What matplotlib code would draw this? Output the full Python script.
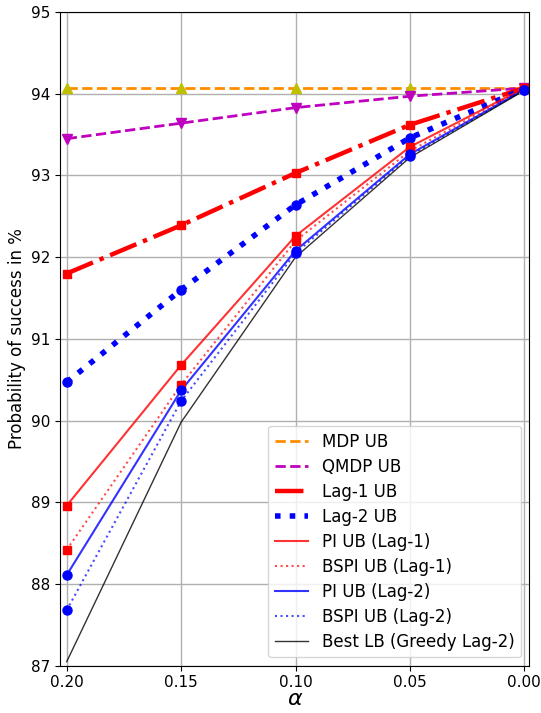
import matplotlib
matplotlib.use("Agg")
import matplotlib.pyplot as plt

alpha = [0.20, 0.15, 0.10, 0.05, 0.00]
mdp_ub = [94.07, 94.07, 94.07, 94.07, 94.07]
qmdp_ub = [93.45, 93.64, 93.83, 93.97, 94.07]
lag1_ub = [91.80, 92.39, 93.03, 93.62, 94.07]
lag2_ub = [90.47, 91.60, 92.64, 93.46, 94.06]
pi_lag1 = [88.96, 90.68, 92.26, 93.35, 94.07]
bspi_lag1 = [88.42, 90.44, 92.20, 93.30, 94.06]
pi_lag2 = [88.11, 90.37, 92.08, 93.26, 94.05]
bspi_lag2 = [87.68, 90.24, 92.05, 93.24, 94.05]
best_lb = [87.05, 89.98, 92.00, 93.22, 94.04]

fig = plt.figure(figsize=(5.41, 7.13), dpi=100)
ax = fig.add_axes([0.1115, 0.0663, 0.8669, 0.9168])

# lines (legend entries)
ax.plot(alpha, mdp_ub, linestyle='--', color='darkorange', lw=2, label='MDP UB')
ax.plot(alpha, qmdp_ub, linestyle='--', color='m', lw=2, label='QMDP UB')
ax.plot(alpha, lag1_ub, linestyle='-.', color='r', lw=3.2, label='Lag-1 UB')
ax.plot(alpha, lag2_ub, linestyle=':', color='b', lw=4, label='Lag-2 UB')
ax.plot(alpha, pi_lag1, linestyle='-', color='r', lw=1.5, alpha=0.8, label='PI UB (Lag-1)')
ax.plot(alpha, bspi_lag1, linestyle=':', color='r', lw=1.5, alpha=0.7, label='BSPI UB (Lag-1)')
ax.plot(alpha, pi_lag2, linestyle='-', color='b', lw=1.5, alpha=0.8, label='PI UB (Lag-2)')
ax.plot(alpha, bspi_lag2, linestyle=':', color='b', lw=1.5, alpha=0.7, label='BSPI UB (Lag-2)')
ax.plot(alpha, best_lb, linestyle='-', color='k', lw=1.0, alpha=0.8,
        label='Best LB (Greedy Lag-2)')

# markers
ax.plot(alpha, mdp_ub, linestyle='none', marker='^', ms=7.5, color='y')
ax.plot(alpha, qmdp_ub, linestyle='none', marker='v', ms=7.5, color='m')
ax.plot(alpha, lag1_ub, linestyle='none', marker='s', ms=6, color='r')
ax.plot(alpha, lag2_ub, linestyle='none', marker='o', ms=6.5, color='b')
ax.plot(alpha, pi_lag1, linestyle='none', marker='s', ms=6, color='r')
ax.plot(alpha, bspi_lag1, linestyle='none', marker='s', ms=6, color='r')
ax.plot(alpha, pi_lag2, linestyle='none', marker='o', ms=6.5, color='b')
ax.plot(alpha, bspi_lag2, linestyle='none', marker='o', ms=6.5, color='b')

ax.set_xlim(0.2028, -0.0022)
ax.set_ylim(87, 95)
ax.set_xticks([0.20, 0.15, 0.10, 0.05, 0.00])
ax.set_xticklabels(['0.20', '0.15', '0.10', '0.05', '0.00'])
ax.set_yticks(range(87, 96))
ax.tick_params(labelsize=11)
ax.grid(True, color='#b0b0b0', lw=1)
ax.set_xlabel(r'$\alpha$', fontsize=16, labelpad=-1)
ax.set_ylabel('Probability of success in %', fontsize=12)
ax.legend(loc='lower right', fontsize=12, labelspacing=0.42)

fig.savefig('out.png', dpi=100)
